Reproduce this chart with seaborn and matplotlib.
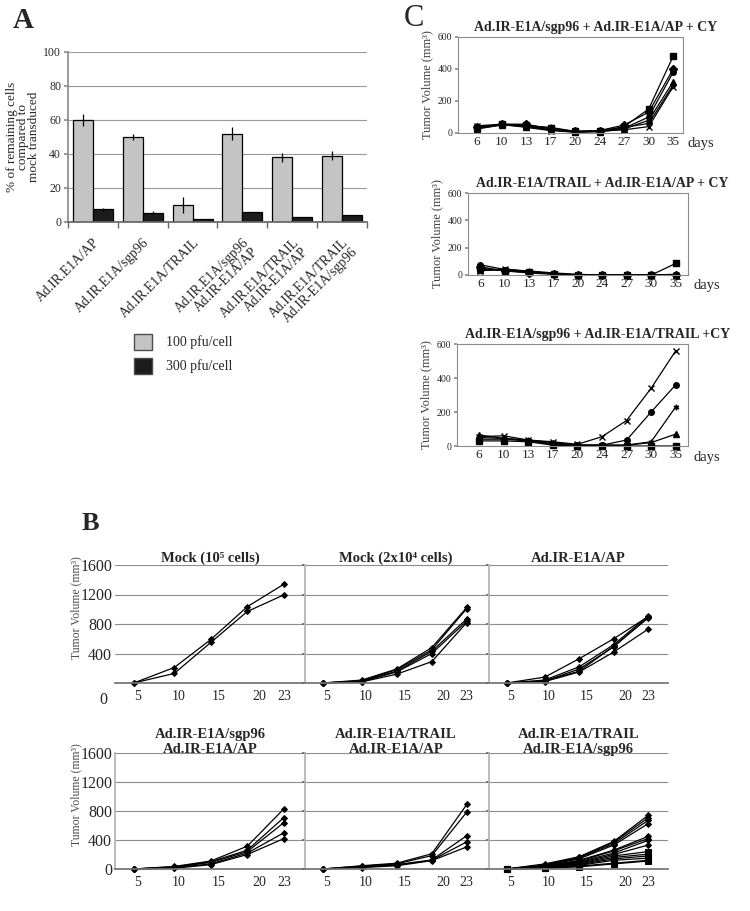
#!/usr/bin/env python3
"""Three-panel figure: in vitro killing (A), tumour growth per group (B), CY combos (C)."""

import matplotlib.pyplot as plt
import pandas as pd
import seaborn as sns
from matplotlib.patches import Patch

# ---------------- panel A: remaining cells vs mock
constructs = [
    "Ad.IR.E1A/AP",
    "Ad.IR.E1A/sgp96",
    "Ad.IR.E1A/TRAIL",
    "Ad.IR.E1A/sgp96\nAd.IR-E1A/AP",
    "Ad.IR.E1A/TRAIL\nAd.IR-E1A/AP",
    "Ad.IR.E1A/TRAIL\nAd.IR-E1A/sgp96",
]
doses = ["100 pfu/cell", "300 pfu/cell"]
remaining_100 = [60, 50, 10, 52, 38, 39]
err_100 = [3.5, 2.0, 4.5, 4.0, 2.5, 2.5]
remaining_300 = [7.5, 5.5, 2.0, 6.0, 3.2, 4.2]
err_300 = [1.0, 1.0, 0.0, 0.0, 0.0, 0.0]

# ---------------- panel C: tumour volume with CY
c_days = ["6", "10", "13", "17", "20", "24", "27", "30", "35"]
c_titles = [
    "Ad.IR-E1A/sgp96 + Ad.IR-E1A/AP + CY",
    "Ad.IR-E1A/TRAIL + Ad.IR-E1A/AP + CY",
    "Ad.IR-E1A/sgp96 + Ad.IR-E1A/TRAIL +CY",
]
c1_volumes = [
    [30, 55, 50, 30, 10, 10, 40, 150, 480],
    [35, 55, 55, 25, 10, 15, 50, 130, 400],
    [30, 50, 45, 20, 8, 10, 30, 100, 380],
    [25, 50, 40, 20, 5, 8, 25, 80, 320],
    [45, 55, 35, 15, 5, 12, 20, 40, 290],
    [40, 50, 45, 35, 10, 15, 35, 60, 300],
]
c2_volumes = [
    [50, 30, 20, 10, 0, 0, 0, 0, 85],
    [60, 30, 15, 5, 0, 0, 0, 0, 0],
    [75, 40, 25, 5, 0, 0, 0, 0, 0],
    [40, 35, 20, 10, 0, 0, 0, 0, 0],
    [30, 45, 25, 10, 0, 0, 0, 0, 0],
    [35, 40, 30, 15, 5, 0, 0, 0, 5],
]
c3_volumes = [
    [55, 60, 35, 25, 10, 55, 150, 340, 560],
    [40, 40, 30, 10, 5, 5, 35, 200, 360],
    [50, 45, 35, 20, 5, 5, 5, 25, 230],
    [65, 45, 30, 15, 5, 5, 5, 20, 70],
    [30, 30, 25, 5, 0, 0, 0, 0, 0],
]

# ---------------- panel B: tumour growth per treatment group
b_days = [4.5, 9.5, 14, 18.5, 23]
b_ticks = [5, 10, 15, 20, 23]
b_titles = [
    "Mock (10\u2075 cells)",
    "Mock (2x10\u2074 cells)",
    "Ad.IR-E1A/AP",
    "Ad.IR-E1A/sgp96\nAd.IR-E1A/AP",
    "Ad.IR-E1A/TRAIL\nAd.IR-E1A/AP",
    "Ad.IR-E1A/TRAIL\nAd.IR-E1A/sgp96",
]
mock_1e5 = [
    [0, 210, 590, 1035, 1340],
    [0, 130, 550, 970, 1195],
]
mock_2e4 = [
    [0, 40, 190, 480, 1025],
    [0, 30, 180, 450, 1010],
    [0, 25, 160, 430, 870],
    [0, 20, 150, 400, 840],
    [0, 15, 120, 290, 820],
]
ap_only = [
    [0, 80, 330, 600, 900],
    [0, 40, 220, 520, 910],
    [0, 25, 190, 490, 890],
    [0, 30, 160, 500, 880],
    [0, 20, 150, 420, 730],
]
sgp96_ap = [
    [0, 35, 110, 315, 830],
    [0, 30, 100, 260, 710],
    [0, 25, 90, 240, 640],
    [0, 20, 70, 220, 500],
    [0, 10, 60, 200, 420],
]
trail_ap = [
    [0, 45, 80, 210, 890],
    [0, 40, 70, 185, 785],
    [0, 30, 60, 125, 460],
    [0, 25, 55, 120, 375],
    [0, 20, 45, 115, 305],
]
trail_sgp96 = [
    [0, 70, 170, 380, 740],
    [0, 60, 160, 370, 705],
    [0, 50, 150, 350, 670],
    [0, 45, 140, 330, 625],
    [0, 40, 120, 260, 450],
    [0, 35, 110, 250, 420],
    [0, 30, 100, 220, 395],
    [0, 30, 90, 200, 330],
    [0, 25, 80, 180, 240],
    [0, 20, 70, 160, 205],
    [0, 20, 60, 140, 180],
    [0, 15, 50, 120, 150],
    [0, 10, 40, 80, 120],
    [0, 10, 30, 70, 110],
]

sns.set_theme(style="white")
plt.rcParams["font.family"] = ["Liberation Serif", "DejaVu Serif"]

W, H = 750, 911


def box(left, top, right, bottom):
    # pixel box -> figure fraction rect
    return [left / W, 1 - bottom / H, (right - left) / W, (bottom - top) / H]


fig = plt.figure(figsize=(7.5, 9.11), dpi=100, facecolor="white")

# ---------------- A
ax_a = fig.add_axes(box(68, 52, 367, 222))
df_a = pd.DataFrame(
    {
        "construct": constructs * 2,
        "dose": [doses[0]] * 6 + [doses[1]] * 6,
        "pct": remaining_100 + remaining_300,
    }
)
bar_colors = ["#c4c4c4", "#1c1c1c"]
sns.barplot(
    data=df_a, x="construct", y="pct", hue="dose", hue_order=doses,
    palette=bar_colors, edgecolor="black", linewidth=0.9, errorbar=None,
    legend=False, ax=ax_a,
)
for cont, errs in zip(ax_a.containers, [err_100, err_300]):
    xs = [p.get_x() + p.get_width() / 2 for p in cont]
    ys = [p.get_height() for p in cont]
    ax_a.errorbar(xs, ys, yerr=errs, fmt="none", ecolor="black", elinewidth=0.9, capsize=0)
ax_a.set_xlim(-0.5, 5.5)
ax_a.set_ylim(0, 100)
ax_a.set_yticks([0, 20, 40, 60, 80, 100])
ax_a.yaxis.grid(True, color="0.6", linewidth=0.8)
ax_a.set_axisbelow(True)
for s in ["top", "right"]:
    ax_a.spines[s].set_visible(False)
ax_a.spines["left"].set_color("0.55")
ax_a.spines["bottom"].set_color("0.4")
ax_a.tick_params(axis="y", labelsize=8.5, left=True, length=3, color="0.55", pad=2)
ax_a.set_xticks(range(6))
ax_a.set_xticklabels(constructs, rotation=45, ha="right", rotation_mode="anchor",
                     fontsize=9.8, linespacing=1.0)
ax_a.tick_params(axis="x", bottom=False, pad=4)
ax_a.set_xticks([i + 0.5 for i in range(-1, 6)], minor=True)
ax_a.tick_params(axis="x", which="minor", bottom=True, length=4, color="0.4")
ax_a.set_xlabel("")
ax_a.set_ylabel("% of remaining cells\ncompared to\nmock transduced", fontsize=9.5,
                linespacing=0.9, labelpad=2)
fig.legend(
    handles=[Patch(facecolor=c, edgecolor="0.3", label=d) for c, d in zip(bar_colors, doses)],
    loc="upper left", bbox_to_anchor=(122 / W, 1 - 321 / H), frameon=False,
    fontsize=10, handlelength=1.25, handleheight=1.45, labelspacing=0.55, handletextpad=1.0,
)
fig.text(13 / W, 1 - 21 / H, "A", fontsize=21, fontweight="bold", va="center")

# ---------------- C
c_boxes = [(458, 37, 683, 133), (468, 193, 688, 275), (457, 344, 688, 446)]
c_xlims = [(-0.78, 8.4), (-0.5, 8.5), (-0.9, 8.5)]
c_markers = [
    ["s", "D", "o", "^", "x", (6, 2, 0)],
    ["s", "D", "o", "^", "x", (6, 2, 0)],
    ["x", "o", (6, 2, 0), "^", "s"],
]
for bx, xl, vols, mks, title in zip(c_boxes, c_xlims, [c1_volumes, c2_volumes, c3_volumes],
                                    c_markers, c_titles):
    ax = fig.add_axes(box(*bx))
    for v, m in zip(vols, mks):
        sns.lineplot(x=c_days, y=v, sort=False, color="black", linewidth=0.9,
                     marker=m, markersize=4, markeredgecolor="black",
                     markerfacecolor="black", markeredgewidth=1.0, clip_on=False, ax=ax)
    ax.set_xlim(*xl)
    ax.set_ylim(0, 600)
    ax.set_yticks([0, 200, 400, 600])
    for s in ax.spines.values():
        s.set_color("0.55")
        s.set_linewidth(0.8)
    ax.tick_params(axis="y", labelsize=7, left=True, length=2, color="0.55", pad=2)
    ax.tick_params(axis="x", labelsize=9.5, bottom=False, length=0, pad=2)
    ax.set_ylabel("Tumor Volume (mm\u00b3)", fontsize=9, color="0.25", labelpad=3)
    ax.set_xlabel("")
    ax.set_title(title, fontsize=10, fontweight="bold", x=0.61, pad=4)
    ax.annotate("days", xy=(1, 0), xycoords="axes fraction", xytext=(5, -11),
                textcoords="offset pixels", fontsize=10.5, va="center", ha="left")
fig.text(404 / W, 1 - 19 / H, "C", fontsize=22, va="center")

# ---------------- B
fig.text(82 / W, 1 - 524 / H, "B", fontsize=19, fontweight="bold", va="center")
col_x = [(115, 305), (305, 487), (489, 668)]
row_y = [(565, 683), (753, 869)]
b_groups = [mock_1e5, mock_2e4, ap_only, sgp96_ap, trail_ap, trail_sgp96]
b_markers = [["D"] * 2, ["D"] * 5, ["D"] * 5, ["D"] * 5, ["D"] * 5, ["D"] * 8 + ["s"] * 6]
for k, (group, mks, title) in enumerate(zip(b_groups, b_markers, b_titles)):
    r, c = divmod(k, 3)
    ax = fig.add_axes(box(col_x[c][0], row_y[r][0], col_x[c][1], row_y[r][1]))
    for v, m in zip(group, mks):
        sns.lineplot(x=b_days, y=v, color="black", linewidth=0.9, marker=m,
                     markersize=3.0 if m == "D" else 3.8, markeredgecolor="black",
                     markerfacecolor="black", clip_on=False, ax=ax)
    ax.set_xlim(2.2, 25.6)
    ax.set_ylim(0, 1600)
    ax.set_xticks(b_ticks)
    ax.set_yticks([0, 400, 800, 1200, 1600])
    ax.yaxis.grid(True, color="0.55", linewidth=0.8)
    ax.set_axisbelow(True)
    for s in ["top", "right"]:
        ax.spines[s].set_visible(False)
    ax.spines["bottom"].set_color("0.45")
    ax.spines["left"].set_color("0.7")
    ax.tick_params(axis="x", labelsize=10, bottom=False, length=0, pad=5)
    if c == 0:
        ax.tick_params(axis="y", labelsize=11.5, left=False, length=0, pad=2)
        if r == 0:
            ax.spines["left"].set_visible(False)
            ax.set_yticklabels(["", "400", "800", "1200", "1600"])
            ax.text(-0.063, -0.14, "0", transform=ax.transAxes, fontsize=11.5,
                    ha="center", va="center")
    else:
        ax.tick_params(axis="y", labelleft=False, left=True, length=2, color="0.4")
    ax.set_xlabel("")
    ax.set_ylabel("")
    ax.set_title(title, fontsize=10.5, fontweight="bold", pad=0 if r else 2,
                 linespacing=1.2)

for r, (top, bottom) in enumerate(row_y):
    fig.text(76 / W, 1 - (top + bottom) / 2 / H + 0.018,
             "Tumor Volume (mm\u00b3)", rotation=90, fontsize=8.5, color="0.3",
             ha="center", va="center")

fig.savefig("out.png", dpi=100, facecolor="white")
